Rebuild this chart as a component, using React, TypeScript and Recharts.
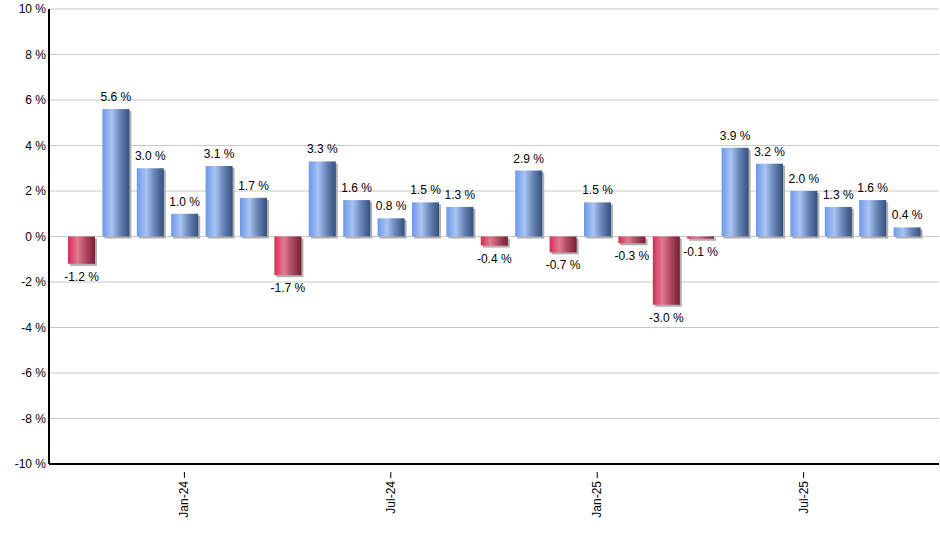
import React from "react";
import { BarChart, Bar, XAxis, YAxis, CartesianGrid, Cell, LabelList } from "recharts";

const months = [
  "Oct-23", "Nov-23", "Dec-23", "Jan-24", "Feb-24", "Mar-24", "Apr-24", "May-24", "Jun-24",
  "Jul-24", "Aug-24", "Sep-24", "Oct-24", "Nov-24", "Dec-24", "Jan-25", "Feb-25", "Mar-25",
  "Apr-25", "May-25", "Jun-25", "Jul-25", "Aug-25", "Sep-25", "Oct-25",
];
const returns = [
  -1.2, 5.6, 3.0, 1.0, 3.1, 1.7, -1.7, 3.3, 1.6, 0.8, 1.5, 1.3, -0.4, 2.9, -0.7, 1.5, -0.3,
  -3.0, -0.1, 3.9, 3.2, 2.0, 1.3, 1.6, 0.4,
];
const shownTicks = ["Jan-24", "Jul-24", "Jan-25", "Jul-25"];
const yTicks = [-10, -8, -6, -4, -2, 0, 2, 4, 6, 8, 10];

const data = months.map((m, i) => ({ month: m, value: returns[i] }));

const FONT = "'Liberation Sans', Arial, sans-serif";

const BarShape = (props: any) => {
  const { x, y, width, height, fill } = props;
  const top = Math.min(y, y + height);
  const h = Math.abs(height);
  return (
    <g>
      <rect x={x + 2} y={top + 2} width={width} height={h} fill="#b0b0b0" />
      <rect x={x} y={top} width={width} height={h} fill={fill} />
    </g>
  );
};

const ValueLabel = (props: any) => {
  const { x, y, width, height, value } = props;
  const top = Math.min(y, y + height);
  const bottom = Math.max(y, y + height);
  const cy = value < 0 ? bottom + 13 : top - 12;
  return (
    <text
      x={x + width / 2}
      y={cy}
      dy={4}
      textAnchor="middle"
      fontSize={12}
      fontFamily={FONT}
      fill="#000"
    >
      {value.toFixed(1)} %
    </text>
  );
};

const XTick = (props: any) => {
  const { x, y, payload } = props;
  if (!shownTicks.includes(payload.value)) return null;
  return (
    <g>
      <line x1={x} y1={y} x2={x} y2={y + 6} stroke="#000" />
      <text
        x={0}
        y={0}
        transform={`translate(${x + 4},${y + 9}) rotate(-90)`}
        textAnchor="end"
        fontSize={12}
        fontFamily={FONT}
        fill="#000"
      >
        {payload.value}
      </text>
    </g>
  );
};

export default function App() {
  return (
    <div style={{ position: "absolute", left: 0, top: 0, background: "#fff" }}>
      <BarChart
        width={940}
        height={550}
        data={data}
        margin={{ top: 9, right: 1, bottom: 0, left: 0 }}
        barSize={27}
      >
        <defs>
          <linearGradient id="blueGrad" x1="0" y1="0" x2="1" y2="0">
            <stop offset="0%" stopColor="#6c98e8" />
            <stop offset="35%" stopColor="#a9c4f3" />
            <stop offset="65%" stopColor="#6a86b8" />
            <stop offset="100%" stopColor="#34507e" />
          </linearGradient>
          <linearGradient id="redGrad" x1="0" y1="0" x2="1" y2="0">
            <stop offset="0%" stopColor="#d82a55" />
            <stop offset="35%" stopColor="#e17a92" />
            <stop offset="65%" stopColor="#b04a62" />
            <stop offset="100%" stopColor="#761e36" />
          </linearGradient>
        </defs>
        <CartesianGrid vertical={false} stroke="#c8c8c8" />
        <XAxis
          dataKey="month"
          type="category"
          interval={0}
          tick={<XTick />}
          tickLine={false}
          axisLine={{ stroke: "#000", strokeWidth: 2 }}
          height={86}
          padding={{ left: 15, right: 15 }}
        />
        <YAxis
          domain={[-10, 10]}
          ticks={yTicks}
          type="number"
          width={49}
          tickSize={0}
          tickMargin={3}
          tickLine={false}
          axisLine={{ stroke: "#000", strokeWidth: 2 }}
          tickFormatter={(v: number) => `${v} %`}
          tick={{ fontSize: 12, fontFamily: FONT, fill: "#000" }}
          allowDataOverflow
        />
        <Bar dataKey="value" isAnimationActive={false} shape={<BarShape />}>
          {data.map((d, i) => (
            <Cell key={i} fill={d.value < 0 ? "url(#redGrad)" : "url(#blueGrad)"} />
          ))}
          <LabelList dataKey="value" content={<ValueLabel />} />
        </Bar>
      </BarChart>
    </div>
  );
}
